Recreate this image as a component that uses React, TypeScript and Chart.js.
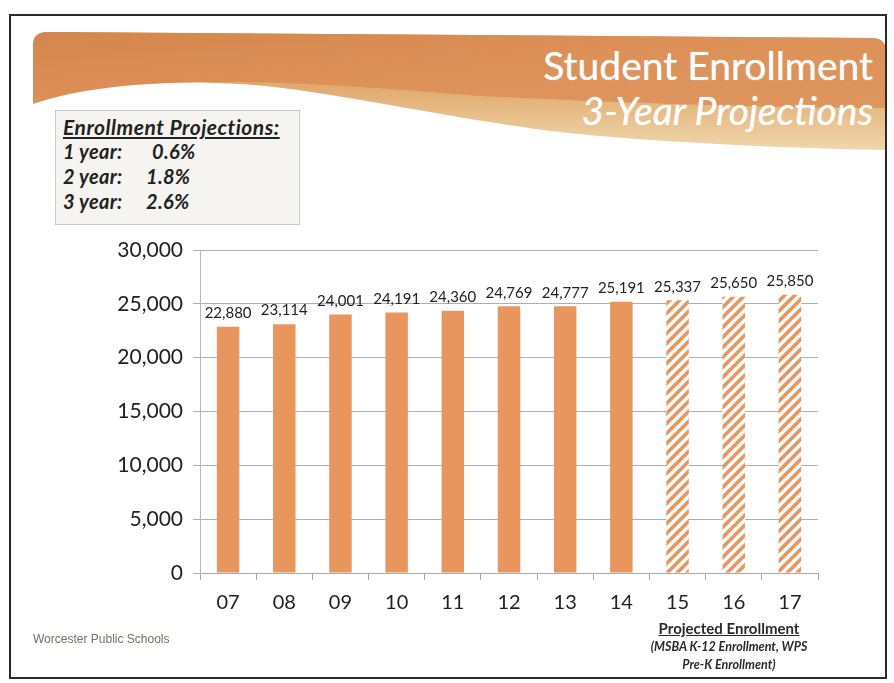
import React, { useEffect, useRef } from "react";
import { Chart, registerables } from "chart.js";

Chart.register(...registerables);

const years = ["07", "08", "09", "10", "11", "12", "13", "14", "15", "16", "17"];
const actualEnrollment = [22880, 23114, 24001, 24191, 24360, 24769, 24777, 25191];
const projectedEnrollment = [25337, 25650, 25850];
const yTicks = [0, 5000, 10000, 15000, 20000, 25000, 30000];
const projections = [
  { label: "1 year:", value: "0.6%" },
  { label: "2 year:", value: "1.8%" },
  { label: "3 year:", value: "2.6%" },
];

const BAR = "#e9965e";

function makeHatch(): CanvasPattern | string {
  const c = document.createElement("canvas");
  c.width = 10;
  c.height = 10;
  const ctx = c.getContext("2d");
  if (!ctx) return BAR;
  ctx.fillStyle = "#ffffff";
  ctx.fillRect(0, 0, 10, 10);
  ctx.strokeStyle = BAR;
  ctx.lineWidth = 3.6;
  ctx.beginPath();
  ctx.moveTo(-2, 12);
  ctx.lineTo(12, -2);
  ctx.moveTo(-7, 7);
  ctx.lineTo(7, -7);
  ctx.moveTo(3, 17);
  ctx.lineTo(17, 3);
  ctx.stroke();
  return ctx.createPattern(c, "repeat") || BAR;
}

const labelPlugin = {
  id: "barLabels",
  afterDatasetsDraw(chart: any) {
    const ctx = chart.ctx;
    const meta = chart.getDatasetMeta(0);
    const data = chart.data.datasets[0].data as number[];
    ctx.save();
    ctx.font = "15px Lato, 'Open Sans', sans-serif";
    ctx.fillStyle = "#222";
    ctx.textAlign = "center";
    ctx.textBaseline = "bottom";
    meta.data.forEach((bar: any, i: number) => {
      ctx.fillText(data[i].toLocaleString("en-US"), bar.x, bar.y - 6);
    });
    ctx.restore();
  },
};

export default function App() {
  const ref = useRef<HTMLCanvasElement>(null);

  useEffect(() => {
    document.body.style.margin = "0";
    if (!ref.current) return;
    const values = [...actualEnrollment, ...projectedEnrollment];
    const hatch = makeHatch();
    const colors = values.map((_, i) => (i < actualEnrollment.length ? BAR : hatch));
    const chart = new Chart(ref.current, {
      type: "bar",
      data: {
        labels: years,
        datasets: [
          {
            data: values,
            backgroundColor: colors as any,
            borderWidth: 0,
            categoryPercentage: 1,
            barPercentage: 0.4,
          },
        ],
      },
      options: {
        responsive: false,
        animation: false,
        layout: { padding: { left: 90, top: 250, right: 76, bottom: 0 } },
        plugins: { legend: { display: false }, tooltip: { enabled: false } },
        scales: {
          x: {
            afterFit: (s: any) => {
              s.height = 110;
            },
            grid: {
              offset: true,
              drawOnChartArea: false,
              drawTicks: true,
              tickLength: 7,
              color: "#a8a8a8",
            },
            border: { display: true, color: "#a8a8a8" },
            ticks: {
              color: "#222",
              padding: 11,
              font: { family: "Lato, 'Open Sans', sans-serif", size: 20 },
            },
          },
          y: {
            min: 0,
            max: 30000,
            afterFit: (s: any) => {
              s.width = 110;
            },
            afterBuildTicks: (s: any) => {
              s.ticks = yTicks.map((v) => ({ value: v }));
            },
            grid: { color: "#b0b0b0", tickLength: 7, lineWidth: 1 },
            border: { display: true, color: "#b8b8b8" },
            ticks: {
              color: "#222",
              padding: 10,
              font: { family: "Lato, 'Open Sans', sans-serif", size: 21 },
              callback: (v: any) => Number(v).toLocaleString("en-US"),
            },
          },
        },
      },
      plugins: [labelPlugin],
    });
    return () => chart.destroy();
  }, []);

  const boxFont = "Lato, 'Open Sans', sans-serif";

  return (
    <div style={{ position: "fixed", left: 0, top: 0, width: 894, height: 683, background: "#fff", overflow: "hidden" }}>
      <svg width={894} height={683} style={{ position: "absolute", left: 0, top: 0 }}>
        <defs>
          <linearGradient id="tan" x1="0" y1="0" x2="0" y2="1">
            <stop offset="0" stopColor="#dc9157" />
            <stop offset="0.5" stopColor="#e2ad72" />
            <stop offset="1" stopColor="#efd7ac" />
          </linearGradient>
          <linearGradient id="org" x1="0" y1="0" x2="1" y2="1">
            <stop offset="0" stopColor="#d5864c" />
            <stop offset="0.5" stopColor="#dc9159" />
            <stop offset="1" stopColor="#de965e" />
          </linearGradient>
        </defs>
        <path
          d="M33,46 Q33,32 47,32 L872,38 Q886,38 886,52 L886,150 C780,148 650,142 560,132 C430,116 330,90 240,84 C150,79 80,86 33,104 Z"
          fill="url(#tan)"
        />
        <path
          d="M33,46 Q33,32 47,32 L872,38 Q886,38 886,52 L886,108 C760,108 600,102 480,96 C380,88 300,82 220,82 C140,82 80,88 33,104 Z"
          fill="url(#org)"
        />
      </svg>
      <div
        style={{
          position: "absolute",
          left: 9,
          top: 14,
          width: 874,
          height: 661,
          border: "2px solid #2a2a2a",
        }}
      />
      <div
        style={{
          position: "absolute",
          right: 21,
          top: 46,
          fontFamily: boxFont,
          fontSize: 39,
          lineHeight: "39px",
          color: "#fff",
          textAlign: "right",
          whiteSpace: "nowrap",
          textShadow: "0 0 1px rgba(255,255,255,0.7)",
        }}
      >
        Student Enrollment
      </div>
      <div
        style={{
          position: "absolute",
          right: 21,
          top: 91,
          fontFamily: boxFont,
          fontSize: 39,
          fontStyle: "italic",
          lineHeight: "39px",
          color: "#fff",
          textAlign: "right",
          whiteSpace: "nowrap",
          textShadow: "0 0 1px rgba(255,255,255,0.7)",
        }}
      >
        3-Year Projections
      </div>
      <div
        style={{
          position: "absolute",
          left: 55,
          top: 110,
          width: 245,
          height: 115,
          border: "1px solid #c8c8c4",
          background: "#f5f4f0",
          boxSizing: "border-box",
        }}
      />
      <div
        style={{
          position: "absolute",
          left: 63,
          top: 116,
          fontFamily: boxFont,
          fontSize: 21,
          fontWeight: 700,
          fontStyle: "italic",
          lineHeight: "21px",
          letterSpacing: "0.5px",
          color: "#222",
          textDecoration: "underline",
          whiteSpace: "nowrap",
        }}
      >
        Enrollment Projections:
      </div>
      {projections.map((p, i) => (
        <div
          key={p.label}
          style={{
            position: "absolute",
            left: 63,
            top: 141 + i * 25,
            fontFamily: boxFont,
            fontSize: 20,
            fontWeight: 700,
            fontStyle: "italic",
            lineHeight: "20px",
            letterSpacing: "0.3px",
            color: "#222",
            whiteSpace: "nowrap",
          }}
        >
          <span style={{ display: "inline-block", width: i === 0 ? 89 : 83 }}>{p.label}</span>
          <span>{p.value}</span>
        </div>
      ))}
      <canvas ref={ref} width={894} height={683} style={{ position: "absolute", left: 0, top: 0 }} />
      <div
        style={{
          position: "absolute",
          left: 33,
          top: 632,
          fontFamily: "'Liberation Sans', Arial, sans-serif",
          fontSize: 12,
          color: "#6e7262",
          whiteSpace: "nowrap",
        }}
      >
        Worcester Public Schools
      </div>
      <div
        style={{
          position: "absolute",
          left: 629,
          width: 200,
          top: 619,
          textAlign: "center",
          fontFamily: boxFont,
          color: "#2a2a2a",
          whiteSpace: "nowrap",
        }}
      >
        <div style={{ fontSize: 15, fontWeight: 700, lineHeight: "19px", textDecoration: "underline" }}>
          Projected Enrollment
        </div>
        <div style={{ fontSize: 12.5, fontWeight: 700, fontStyle: "italic", lineHeight: "18px" }}>
          (MSBA K-12 Enrollment, WPS
        </div>
        <div style={{ fontSize: 12.5, fontWeight: 700, fontStyle: "italic", lineHeight: "17px" }}>
          Pre-K Enrollment)
        </div>
      </div>
    </div>
  );
}
